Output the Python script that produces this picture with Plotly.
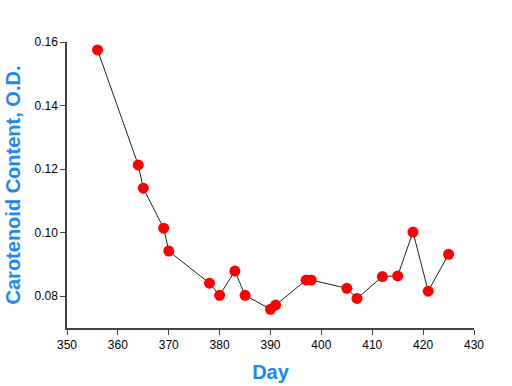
import plotly.graph_objects as go

days = [356, 364, 365, 369, 370, 378, 380, 383, 385, 390, 391, 397, 398, 405, 407, 412, 415, 418, 421, 425]
carotenoid = [0.1575, 0.1213, 0.1140, 0.1014, 0.0942, 0.0841, 0.0803, 0.0879, 0.0803, 0.0759,
              0.0772, 0.0851, 0.0851, 0.0825, 0.0793, 0.0862, 0.0864, 0.1002, 0.0816, 0.0932]
x_ticks = [350, 360, 370, 380, 390, 400, 410, 420, 430]
y_ticks = [0.08, 0.10, 0.12, 0.14, 0.16]
y_ticklabels = ["0.08", "0.10", "0.12", "0.14", "0.16"]

blue = "#1a88f5"

fig = go.Figure()
fig.add_trace(go.Scatter(
    x=days, y=carotenoid, mode="lines+markers",
    line=dict(color="#222222", width=1),
    marker=dict(color="#ff0000", size=11, line=dict(width=0)),
    showlegend=False,
))

fig.update_layout(
    width=512, height=386,
    margin=dict(l=67, r=38, t=42, b=58),
    plot_bgcolor="white", paper_bgcolor="white",
    font=dict(family="Liberation Sans, Arial, sans-serif", size=12, color="black"),
    xaxis=dict(
        range=[350, 430], tickvals=x_ticks, ticks="outside", ticklen=5,
        tickcolor="#444444", showline=True, linecolor="#444444", linewidth=1.5,
        showgrid=False, zeroline=False, automargin=False,
        title=dict(text="<b>Day</b>", font=dict(size=20, color=blue), standoff=14),
    ),
    yaxis=dict(
        range=[0.07, 0.16], tickvals=y_ticks, ticktext=y_ticklabels, ticks="outside",
        ticklen=5, tickcolor="#444444", showline=True, linecolor="#444444", linewidth=1.5,
        showgrid=False, zeroline=False, automargin=False,
        title=dict(text="<b>Carotenoid Content, O.D.</b>", font=dict(size=20, color=blue), standoff=8),
    ),
)

fig.write_html("out.html", config={"displayModeBar": False},
               post_script="document.body.style.margin='0';")
